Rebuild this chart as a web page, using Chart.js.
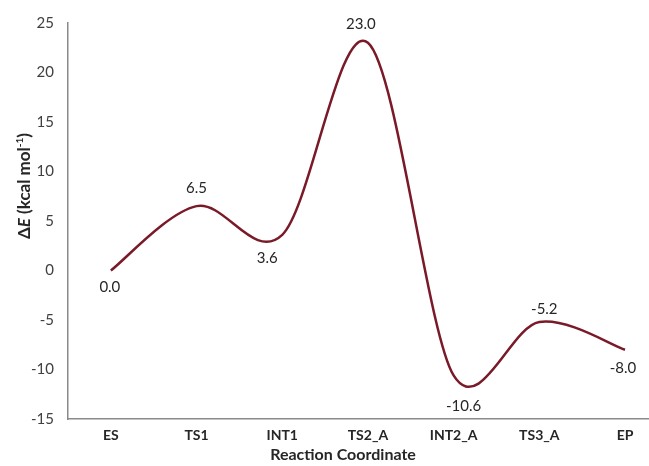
<!DOCTYPE html>
<html>
<head>
<meta charset="utf-8">
<script src="https://cdn.jsdelivr.net/npm/chart.js@4.4.1/dist/chart.umd.min.js"></script>
<style>
  html, body { margin: 0; padding: 0; background: #ffffff; overflow: hidden; }
  canvas { display: block; }
</style>
</head>
<body>
<canvas id="profile" width="649" height="466"></canvas>
<script>
// Stationary points along the reaction path
const states = ['ES', 'TS1', 'INT1', 'TS2_A', 'INT2_A', 'TS3_A', 'EP'];
// Relative energies, kcal/mol
const energy = [0.0, 6.5, 3.6, 23.0, -10.6, -5.2, -8.0];
// Energy axis ticks
const energyTicks = [-15, -10, -5, 0, 5, 10, 15, 20, 25];

const FONT = "Lato, 'Open Sans', 'Liberation Sans', sans-serif";
const AXIS_GREY = '#8a8a8a';
const TEXT = '#262626';
const CURVE = '#7a1a28';

// one point per state, placed at its index along the reaction coordinate
const points = states.map((s, i) => ({ x: i, y: energy[i] }));

// Spreadsheet-style smoothing: Catmull-Rom tangents (1/6 of the neighbour
// chord), shortened so no handle exceeds half of its own segment.
const smoothCurve = {
  id: 'smoothCurve',
  beforeDatasetsDraw(chart) {
    const meta = chart.getDatasetMeta(0);
    const line = meta.dataset;
    if (!line) return;
    line.updateControlPoints(chart.chartArea, 'x');
    const pts = meta.data;
    const n = pts.length;
    const dist = (a, b) => Math.hypot(b.x - a.x, b.y - a.y);
    for (let i = 0; i < n; i++) {
      const p = pts[i];
      const prev = pts[Math.max(i - 1, 0)];
      const next = pts[Math.min(i + 1, n - 1)];
      let tx = (next.x - prev.x) / 6;
      let ty = (next.y - prev.y) / 6;
      const len = Math.hypot(tx, ty);
      let k = 1;
      if (len > 0) {
        if (i > 0) k = Math.min(k, 0.5 * dist(prev, p) / len);
        if (i < n - 1) k = Math.min(k, 0.5 * dist(p, next) / len);
      }
      tx *= k; ty *= k;
      p.cp1x = p.x - tx; p.cp1y = p.y - ty;
      p.cp2x = p.x + tx; p.cp2y = p.y + ty;
    }
    line._path = undefined;
  }
};

// Value labels next to each stationary point (dx, dy in px from the point)
const labelOffsets = [
  [-1, 17], [0, -18], [-15, 23], [-7, -19], [10, 31], [5, -13], [-2, 18]
];

const annotate = {
  id: 'annotate',
  afterDatasetsDraw(chart) {
    const ctx = chart.ctx;
    const meta = chart.getDatasetMeta(0);
    ctx.save();
    ctx.fillStyle = TEXT;
    ctx.font = '15px ' + FONT;
    ctx.textAlign = 'center';
    ctx.textBaseline = 'middle';
    meta.data.forEach((el, i) => {
      const [dx, dy] = labelOffsets[i];
      ctx.fillText(energy[i].toFixed(1), el.x + dx, el.y + dy);
    });
    ctx.restore();
  },
  afterDraw(chart) {
    const ctx = chart.ctx;
    ctx.save();
    ctx.fillStyle = TEXT;

    // x-axis title
    ctx.font = 'bold 16px ' + FONT;
    ctx.textAlign = 'center';
    ctx.textBaseline = 'middle';
    ctx.fillText('Reaction Coordinate', 343, 455);

    // y-axis title: ΔE (kcal mol⁻¹) with italic E and superscript -1
    ctx.translate(25, 186);
    ctx.rotate(-Math.PI / 2);
    ctx.textBaseline = 'middle';
    const parts = [
      { t: 'Δ', f: 'bold 17px ' + FONT, dy: 0 },
      { t: 'E', f: 'italic bold 17px ' + FONT, dy: 0 },
      { t: ' (kcal mol', f: 'bold 17px ' + FONT, dy: 0 },
      { t: '-1', f: 'bold 10px ' + FONT, dy: -5 },
      { t: ')', f: 'bold 17px ' + FONT, dy: 0 }
    ];
    let total = 0;
    parts.forEach(p => { ctx.font = p.f; p.w = ctx.measureText(p.t).width; total += p.w; });
    let x = -total / 2;
    ctx.textAlign = 'left';
    parts.forEach(p => { ctx.font = p.f; ctx.fillText(p.t, x, p.dy); x += p.w; });
    ctx.restore();
  }
};

new Chart(document.getElementById('profile'), {
  type: 'line',
  data: {
    datasets: [{
      data: points,
      borderColor: CURVE,
      borderWidth: 2.5,
      pointRadius: 0,
      fill: false,
      tension: 0.4
    }]
  },
  options: {
    responsive: false,
    animation: false,
    devicePixelRatio: 1,
    layout: { padding: { top: 23, right: 0, left: 0, bottom: 0 } },
    plugins: { legend: { display: false }, tooltip: { enabled: false } },
    scales: {
      x: {
        type: 'linear',
        min: -0.5,
        max: 6.28,
        afterBuildTicks(axis) { axis.ticks = states.map((s, i) => ({ value: i })); },
        afterFit(axis) { axis.height = 47; },
        grid: { display: false, drawTicks: false },
        border: { display: true, color: AXIS_GREY, width: 1.5 },
        ticks: {
          autoSkip: false,
          maxRotation: 0,
          padding: 8,
          color: TEXT,
          font: { family: FONT, size: 14, weight: 'bold' },
          callback(value) { return states[value] ?? ''; }
        }
      },
      y: {
        type: 'linear',
        min: energyTicks[0],
        max: energyTicks[energyTicks.length - 1],
        afterBuildTicks(axis) { axis.ticks = energyTicks.map(v => ({ value: v })); },
        afterFit(axis) { axis.width = 68; },
        grid: { display: false, drawTicks: false },
        border: { display: true, color: AXIS_GREY, width: 1.5 },
        ticks: {
          padding: 14,
          color: '#404040',
          font: { family: FONT, size: 15 }
        }
      }
    }
  },
  plugins: [smoothCurve, annotate]
});
</script>
</body>
</html>
